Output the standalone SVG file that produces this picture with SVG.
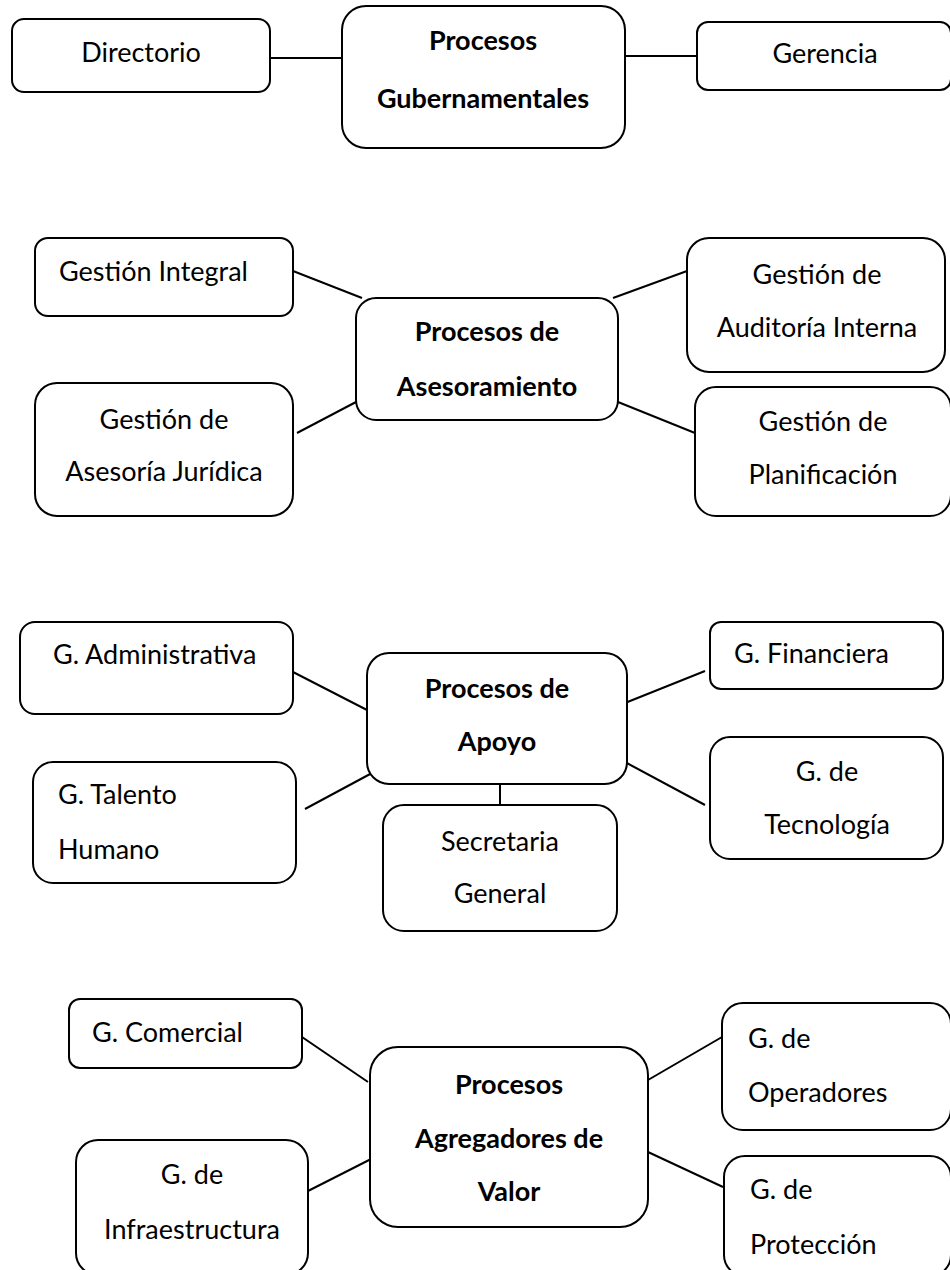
<svg xmlns="http://www.w3.org/2000/svg" width="950" height="1270" viewBox="0 0 950 1270">
<style>
  .box { fill: #ffffff; stroke: #000000; stroke-width: 2; }
  .t { font-family: Lato, "Liberation Sans", sans-serif; font-size: 27px; fill: #000000; }
  .c { text-anchor: middle; }
  .b { font-weight: bold; }
  .conn line { stroke: #000000; stroke-width: 2; }
</style>
<rect width="950" height="1270" fill="#ffffff"/>

<g id="connectors" class="conn">
  <line x1="270" y1="58" x2="342" y2="58"/>
  <line x1="625" y1="56" x2="697" y2="56"/>
  <line x1="293" y1="271" x2="362" y2="298"/>
  <line x1="297" y1="433" x2="356" y2="402"/>
  <line x1="613" y1="298" x2="687" y2="271"/>
  <line x1="618" y1="402" x2="695" y2="433"/>
  <line x1="293" y1="672" x2="367" y2="710"/>
  <line x1="305" y1="809" x2="372" y2="773"/>
  <line x1="500" y1="784" x2="500" y2="805"/>
  <line x1="625" y1="703" x2="705" y2="671"/>
  <line x1="625" y1="762" x2="705" y2="805"/>
  <line x1="302" y1="1037" x2="368" y2="1082"/>
  <line x1="308" y1="1191" x2="377" y2="1156"/>
  <line x1="648" y1="1080" x2="722" y2="1037"/>
  <line x1="648" y1="1152" x2="723" y2="1187"/>
</g>

<g id="directorio">
  <rect class="box" x="12" y="19" width="258" height="73" rx="12"/>
  <text class="t c" x="141" y="62">Directorio</text>
</g>
<g id="gubernamentales">
  <rect class="box" x="342" y="6" width="283" height="142" rx="24"/>
  <text class="t c b" x="483" y="50">Procesos</text>
  <text class="t c b" x="483" y="108">Gubernamentales</text>
</g>
<g id="gerencia">
  <rect class="box" x="697" y="22" width="254" height="68" rx="11"/>
  <text class="t c" x="825" y="63">Gerencia</text>
</g>

<g id="gestion-integral">
  <rect class="box" x="35" y="238" width="258" height="78" rx="13"/>
  <text class="t" x="59" y="281">Gestión Integral</text>
</g>
<g id="asesoria-juridica">
  <rect class="box" x="35" y="383" width="258" height="133" rx="22"/>
  <text class="t c" x="164" y="429">Gestión de</text>
  <text class="t c" x="164" y="481">Asesoría Jurídica</text>
</g>
<g id="asesoramiento">
  <rect class="box" x="356" y="298" width="262" height="122" rx="20"/>
  <text class="t c b" x="487" y="341">Procesos de</text>
  <text class="t c b" x="487" y="396">Asesoramiento</text>
</g>
<g id="auditoria">
  <rect class="box" x="687" y="238" width="258" height="134" rx="22"/>
  <text class="t c" x="817" y="284">Gestión de</text>
  <text class="t c" x="817" y="337">Auditoría Interna</text>
</g>
<g id="planificacion">
  <rect class="box" x="695" y="387" width="256" height="129" rx="21"/>
  <text class="t c" x="823" y="431">Gestión de</text>
  <text class="t c" x="823" y="484">Planificación</text>
</g>

<g id="administrativa">
  <rect class="box" x="20" y="622" width="273" height="92" rx="15"/>
  <text class="t" x="53" y="664">G. Administrativa</text>
</g>
<g id="apoyo">
  <rect class="box" x="367" y="653" width="260" height="131" rx="22"/>
  <text class="t c b" x="497" y="698">Procesos de</text>
  <text class="t c b" x="497" y="751">Apoyo</text>
</g>
<g id="talento-humano">
  <rect class="box" x="33" y="762" width="263" height="121" rx="20"/>
  <text class="t" x="58" y="804">G. Talento</text>
  <text class="t" x="58" y="859">Humano</text>
</g>
<g id="secretaria">
  <rect class="box" x="383" y="805" width="234" height="126" rx="21"/>
  <text class="t c" x="500" y="851">Secretaria</text>
  <text class="t c" x="500" y="903">General</text>
</g>
<g id="financiera">
  <rect class="box" x="710" y="622" width="233" height="67" rx="11"/>
  <text class="t" x="734" y="663">G. Financiera</text>
</g>
<g id="tecnologia">
  <rect class="box" x="710" y="737" width="233" height="122" rx="20"/>
  <text class="t c" x="827" y="781">G. de</text>
  <text class="t c" x="827" y="834">Tecnología</text>
</g>

<g id="comercial">
  <rect class="box" x="69" y="999" width="233" height="69" rx="11"/>
  <text class="t" x="92" y="1042">G. Comercial</text>
</g>
<g id="agregadores">
  <rect class="box" x="370" y="1047" width="278" height="180" rx="28"/>
  <text class="t c b" x="509" y="1094">Procesos</text>
  <text class="t c b" x="509" y="1148">Agregadores de</text>
  <text class="t c b" x="509" y="1201">Valor</text>
</g>
<g id="infraestructura">
  <rect class="box" x="76" y="1140" width="232" height="135" rx="22"/>
  <text class="t c" x="192" y="1184">G. de</text>
  <text class="t c" x="192" y="1239">Infraestructura</text>
</g>
<g id="operadores">
  <rect class="box" x="722" y="1003" width="229" height="127" rx="21"/>
  <text class="t" x="748" y="1048">G. de</text>
  <text class="t" x="748" y="1102">Operadores</text>
</g>
<g id="proteccion">
  <rect class="box" x="724" y="1156" width="227" height="120" rx="21"/>
  <text class="t" x="750" y="1199">G. de</text>
  <text class="t" x="750" y="1254">Protección</text>
</g>
</svg>
